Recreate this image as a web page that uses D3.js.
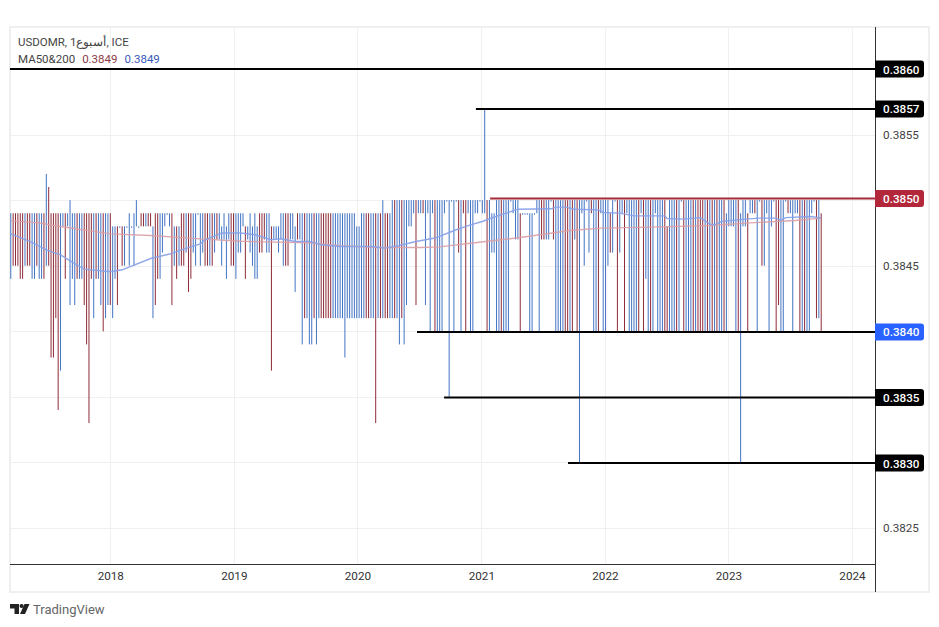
<!DOCTYPE html>
<html>
<head>
<meta charset="utf-8">
<script src="https://cdn.jsdelivr.net/npm/d3@7"></script>
<style>
html, body { margin: 0; padding: 0; background: #fff; }
svg { display: block; }
text { font-family: Roboto, "Noto Sans", sans-serif; }
</style>
</head>
<body>
<svg id="chart" width="939" height="627"></svg>
<script>
// weekly bars, prices are pips above 0.38 (49 = 0.3849)
var firstWeek = "2017-03-13";
var highs = [
49,49,49,49,49,49,49,49,49,49, 49,49,49,49,49,52,51,49,49,49,
49,49,49,49,49,50,49,49,49,49, 49,49,49,49,49,49,49,49,49,49,
49,49,49,48,48,48,48,48,48,48, 49,48,49,50,48,49,49,49,49,49,
48,49,49,49,49,49,49,49,49,48, 48,48,49,49,49,49,49,49,49,49,
49,49,49,49,49,49,49,49,49,48, 49,48,49,49,49,49,49,49,49,48,
48,49,48,49,48,49,49,49,49,49, 48,48,48,48,49,49,49,49,49,49,
48,49,49,49,49,49,49,49,49,49, 49,49,49,49,49,49,49,49,49,49,
49,49,49,49,49,49,48,48,49,49, 49,49,49,49,49,49,49,50,49,49,
49,50,50,50,50,50,50,50,50,50, 50,50,50,50,50,50,50,50,50,50,
50,50,50,50,50,50,50,50,50,50, 50,50,50,50,50,50,50,50,50,50,
57,50,50,49,49,50,50,50,50,50, 50,50,50,50,50,49,49,49,49,49,
49,49,50,50,50,50,50,50,50,50, 50,50,50,50,50,50,50,50,50,50,
50,50,50,50,50,50,50,50,50,50, 50,50,50,49,50,50,50,50,50,50,
50,50,50,50,50,50,50,50,50,50, 50,50,50,50,50,50,50,48,50,50,
50,50,50,50,50,50,50,50,50,50, 50,50,50,50,50,50,50,50,50,50,
50,50,49,50,50,50,50,50,49,50, 50,49,50,50,50,50,50,50,50,50,
50,50,50,50,50,50,50,50,50,50, 50,50,50,50,50,50,50,50,50,50,
50,50,49
];
var lows = [
44,45,45,45,44,44,45,45,45,44, 44,45,44,44,44,45,45,38,38,41,
34,37,48,44,48,42,44,42,44,44, 44,42,39,33,44,41,44,44,42,40,
41,42,42,41,44,42,48,45,45,48, 45,48,45,48,48,48,48,48,48,48,
41,42,44,44,46,48,49,48,42,45, 44,45,45,45,46,43,44,46,45,49,
45,46,45,45,45,45,46,47,47,45, 47,44,47,45,45,44,46,46,48,44,
47,46,45,44,44,46,46,47,46,46, 37,47,47,46,47,45,45,45,47,47,
43,47,47,39,41,41,39,39,41,39, 41,41,41,41,41,41,41,41,41,41,
41,38,41,41,41,41,41,41,41,41, 41,41,41,41,33,41,41,41,41,41,
41,41,41,41,39,41,39,42,48,48, 49,42,49,49,49,42,49,40,49,40,
40,40,40,49,50,35,50,40,50,46, 40,49,40,49,40,40,49,49,50,49,
49,40,40,46,46,40,40,40,40,40, 40,50,49,47,47,40,49,49,49,40,
40,49,49,40,47,47,47,47,50,47, 40,40,40,40,40,40,40,40,47,40,
30,49,45,50,46,49,40,40,40,49, 40,40,45,46,46,50,40,46,49,40,
49,40,40,40,40,40,49,40,44,40, 40,40,49,40,40,40,40,40,40,40,
40,40,40,50,40,40,40,40,40,40, 40,40,40,40,40,40,40,40,40,40,
40,40,40,48,48,48,40,40,30,48, 48,40,49,49,49,40,50,45,45,49,
40,48,50,40,42,40,40,50,49,49, 40,49,49,40,40,40,40,40,49,50,
41,41,40
];
// 1 = blue bar, 0 = red bar
var dirs = [
1,0,0,0,0,0,1,0,0,1, 1,0,1,1,0,1,0,0,0,0,
0,1,1,0,1,1,1,1,0,1, 1,0,0,0,0,1,0,1,1,0,
1,1,0,1,1,0,1,0,1,1, 1,1,1,1,1,0,0,1,0,0,
1,0,0,1,1,1,1,1,0,1, 0,1,0,0,1,0,0,1,1,1,
1,1,0,0,1,0,1,0,1,1, 1,1,1,0,0,1,1,1,1,0,
1,1,1,1,1,0,0,0,1,1, 0,1,1,1,1,1,0,0,1,1,
1,0,1,1,0,1,1,1,0,1, 1,0,0,0,0,0,1,1,1,1,
1,1,1,1,1,1,1,1,1,1, 0,0,1,1,0,1,0,1,0,0,
1,1,0,1,1,0,1,1,1,1, 1,0,1,1,0,1,1,1,1,0,
1,1,1,1,1,1,1,1,1,0, 1,0,0,1,1,1,1,1,1,1,
1,0,1,1,1,1,1,0,1,1, 1,1,1,1,1,0,1,1,1,1,
1,1,1,1,0,0,1,1,1,0, 1,1,1,1,0,0,1,0,1,0,
1,1,1,1,1,0,1,1,0,1, 1,1,1,0,1,1,0,1,1,0,
1,1,1,1,1,0,1,0,1,1, 0,1,1,1,1,1,0,0,1,1,
1,0,1,1,0,1,1,1,0,1, 0,0,0,1,0,1,0,1,0,1,
1,0,1,1,1,1,1,0,1,1, 1,0,1,1,0,1,1,0,1,1,
1,1,1,0,0,1,1,1,0,1, 1,1,1,0,1,0,1,1,1,1,
0,1,0
];

// moving averages, read at the bends of each line
var maRedBars = [0,12,21,42,59,80,97,126,139,156,173,181,194,215,236,249,270,295,312,331,342];
var maRedPips = [48.42,48.27,47.99,47.43,47.30,47.05,46.86,46.75,46.52,46.39,46.39,46.44,46.71,47.15,47.68,47.87,47.94,48.07,48.27,48.45,48.63];
var maBlueBars = [0,8,15,21,26,31,42,47,59,67,72,80,82,89,97,103,110,114,120,126,131,139,152,158,164,171,179,188,194,199,202,214,228,230,234,238,248,250,257,263,276,277,284,291,295,297,300,310,316,323,325,327,338,342];
var maBluePips = [47.43,46.85,46.21,45.83,45.28,44.74,44.54,44.69,45.55,45.89,46.21,46.67,46.98,47.49,47.49,47.36,46.98,47.05,46.85,46.85,46.60,46.47,46.47,46.34,46.54,46.85,47.11,47.74,48.12,48.37,48.58,49.31,49.34,49.47,49.47,49.31,49.26,49.06,49.01,48.80,48.80,48.60,48.55,48.67,48.17,48.12,48.37,48.55,48.63,48.63,48.45,48.67,48.75,48.63];

// drawn levels
var levelPips = [60,57,50,40,35,30];
var levelStarts = [null,"2020-12-16","2021-01-27","2020-06-25","2020-09-13","2021-09-14"];
var levelColors = ["#000000","#000000","#a52a3a","#000000","#000000","#000000"];
var levelBoxes = ["#000000","#000000","#b2283a","#2962ff","#000000","#000000"];

var priceTicks = [25,30,35,40,45,50,55,60];
var plainTicks = [25,45,55];
var yearTicks = [2018,2019,2020,2021,2022,2023,2024];

var blue = "#4274c4", red = "#8e2b38";
var left = 10, right = 875, top_ = 27, bottom = 564;
var parse = d3.utcParse("%Y-%m-%d");
var price = function(p) { return 0.38 + p / 10000; };

var x = d3.scaleUtc()
	.domain([new Date(Date.UTC(2018,0,1)), new Date(Date.UTC(2024,0,1))])
	.range([110.3, 852]);
var y = d3.scaleLinear()
	.domain([0.3825, 0.3860])
	.range([528, 69]);

var barDate = function(i) { return d3.utcDay.offset(parse(firstWeek), 7 * i); };
var years = yearTicks.map(function(d) { return new Date(Date.UTC(d,0,1)); });

// the drawn lines sit a touch off their price, the red one above 0.3850
var levelY = function(p) { return y(price(p)) + (p == 50 ? -1.6 : (p == 60 ? 0 : 0.6)); };

var svg = d3.select("#chart");

svg.append("rect")
	.attr("x", left).attr("y", top_)
	.attr("width", 919).attr("height", 565)
	.attr("fill", "#fff").attr("stroke", "#efefef").attr("stroke-width", 2);

svg.append("defs").append("clipPath").attr("id", "plot").append("rect")
	.attr("x", left).attr("y", top_)
	.attr("width", right - left).attr("height", bottom - top_);

// grid
var grid = svg.append("g").attr("stroke", "#f0f0f0").attr("stroke-width", 1);
grid.selectAll(".gx").data(years).enter().append("line")
	.attr("x1", function(d) { return Math.round(x(d)) + 0.5; })
	.attr("x2", function(d) { return Math.round(x(d)) + 0.5; })
	.attr("y1", top_).attr("y2", bottom);
grid.selectAll(".gy").data(priceTicks).enter().append("line")
	.attr("x1", left).attr("x2", right)
	.attr("y1", function(d) { return Math.round(y(price(d))) + 0.5; })
	.attr("y2", function(d) { return Math.round(y(price(d))) + 0.5; });

var plot = svg.append("g").attr("clip-path", "url(#plot)");

// bars
plot.selectAll(".bar").data(highs).enter().append("line")
	.attr("class", "bar")
	.attr("x1", function(d, i) { return x(barDate(i)); })
	.attr("x2", function(d, i) { return x(barDate(i)); })
	.attr("y1", function(d) { return y(price(d)); })
	.attr("y2", function(d, i) { return Math.max(y(price(lows[i])), y(price(d)) + 1.5); })
	.attr("stroke", function(d, i) { return dirs[i] ? blue : red; })
	.attr("stroke-width", 1);

// moving averages
var maLine = d3.line()
	.x(function(d) { return x(barDate(d[0])); })
	.y(function(d) { return y(price(d[1])); });
plot.append("path")
	.attr("d", maLine(d3.zip(maRedBars, maRedPips)))
	.attr("fill", "none").attr("stroke", "#d9a0a6").attr("stroke-width", 1.4).attr("opacity", 0.9);
plot.append("path")
	.attr("d", maLine(d3.zip(maBlueBars, maBluePips)))
	.attr("fill", "none").attr("stroke", "#8aa2e8").attr("stroke-width", 1.4).attr("opacity", 0.95);

// levels
svg.selectAll(".level").data(levelPips).enter().append("line")
	.attr("class", "level")
	.attr("x1", function(d, i) { return levelStarts[i] ? x(parse(levelStarts[i])) : left; })
	.attr("x2", right)
	.attr("y1", levelY)
	.attr("y2", levelY)
	.attr("stroke", function(d, i) { return levelColors[i]; })
	.attr("stroke-width", 2);

// axes
var xAxis = d3.axisBottom(x)
	.tickValues(years)
	.tickFormat(d3.utcFormat("%Y"))
	.tickSize(0)
	.tickPadding(8);
var gx = svg.append("g").attr("transform", "translate(0," + bottom + ")").call(xAxis);
gx.select(".domain").remove();
gx.selectAll("text").attr("font-size", 11.7).attr("fill", "#333").style("font-family", "Roboto, sans-serif");

var yAxis = d3.axisRight(y)
	.tickValues(plainTicks.map(price))
	.tickFormat(d3.format(".4f"))
	.tickSize(0)
	.tickPadding(8);
var gy = svg.append("g").attr("transform", "translate(" + right + ",0)").call(yAxis);
gy.select(".domain").remove();
gy.selectAll("text").attr("font-size", 11.7).attr("fill", "#444").style("font-family", "Roboto, sans-serif");

svg.append("line").attr("x1", left).attr("x2", right).attr("y1", bottom + 0.5).attr("y2", bottom + 0.5)
	.attr("stroke", "#333").attr("stroke-width", 1);
svg.append("line").attr("x1", right + 0.5).attr("x2", right + 0.5).attr("y1", top_).attr("y2", 592)
	.attr("stroke", "#333").attr("stroke-width", 1);

// level labels
var tags = svg.selectAll(".tag").data(levelPips).enter().append("g")
	.attr("class", "tag")
	.attr("transform", function(d) { return "translate(" + right + "," + levelY(d) + ")"; });
tags.append("path")
	.attr("d", "M0,-8.5H46a3,3 0 0 1 3,3V5.5a3,3 0 0 1 -3,3H0Z")
	.attr("fill", function(d, i) { return levelBoxes[i]; });
tags.append("text")
	.attr("x", 8).attr("y", 4.5)
	.attr("font-size", 11.7).attr("font-weight", 500).attr("fill", "#fff")
	.text(function(d) { return d3.format(".4f")(price(d)); });

// legend
svg.append("text").attr("x", 18).attr("y", 46).attr("font-size", 11.5).attr("fill", "#444")
	.text("USDOMR, 1أسبوع, ICE");
var legend = svg.append("text").attr("x", 18).attr("y", 63).attr("font-size", 11.5).attr("fill", "#444");
legend.append("tspan").text("MA50&200");
legend.append("tspan").attr("dx", 7).attr("fill", "#8e3a46").text("0.3849");
legend.append("tspan").attr("dx", 7).attr("fill", "#3a5ab8").text("0.3849");

// logo
var logo = svg.append("g").attr("fill", "#222");
logo.append("path").attr("d", "M10,604H19V614H14.5V608.5H10Z");
logo.append("circle").attr("cx", 21.6).attr("cy", 606).attr("r", 2.1);
logo.append("path").attr("d", "M24.5,604H29.5L25,614H20Z");
svg.append("text").attr("x", 33).attr("y", 614).attr("font-size", 13).attr("fill", "#666")
	.text("TradingView");
</script>
</body>
</html>
